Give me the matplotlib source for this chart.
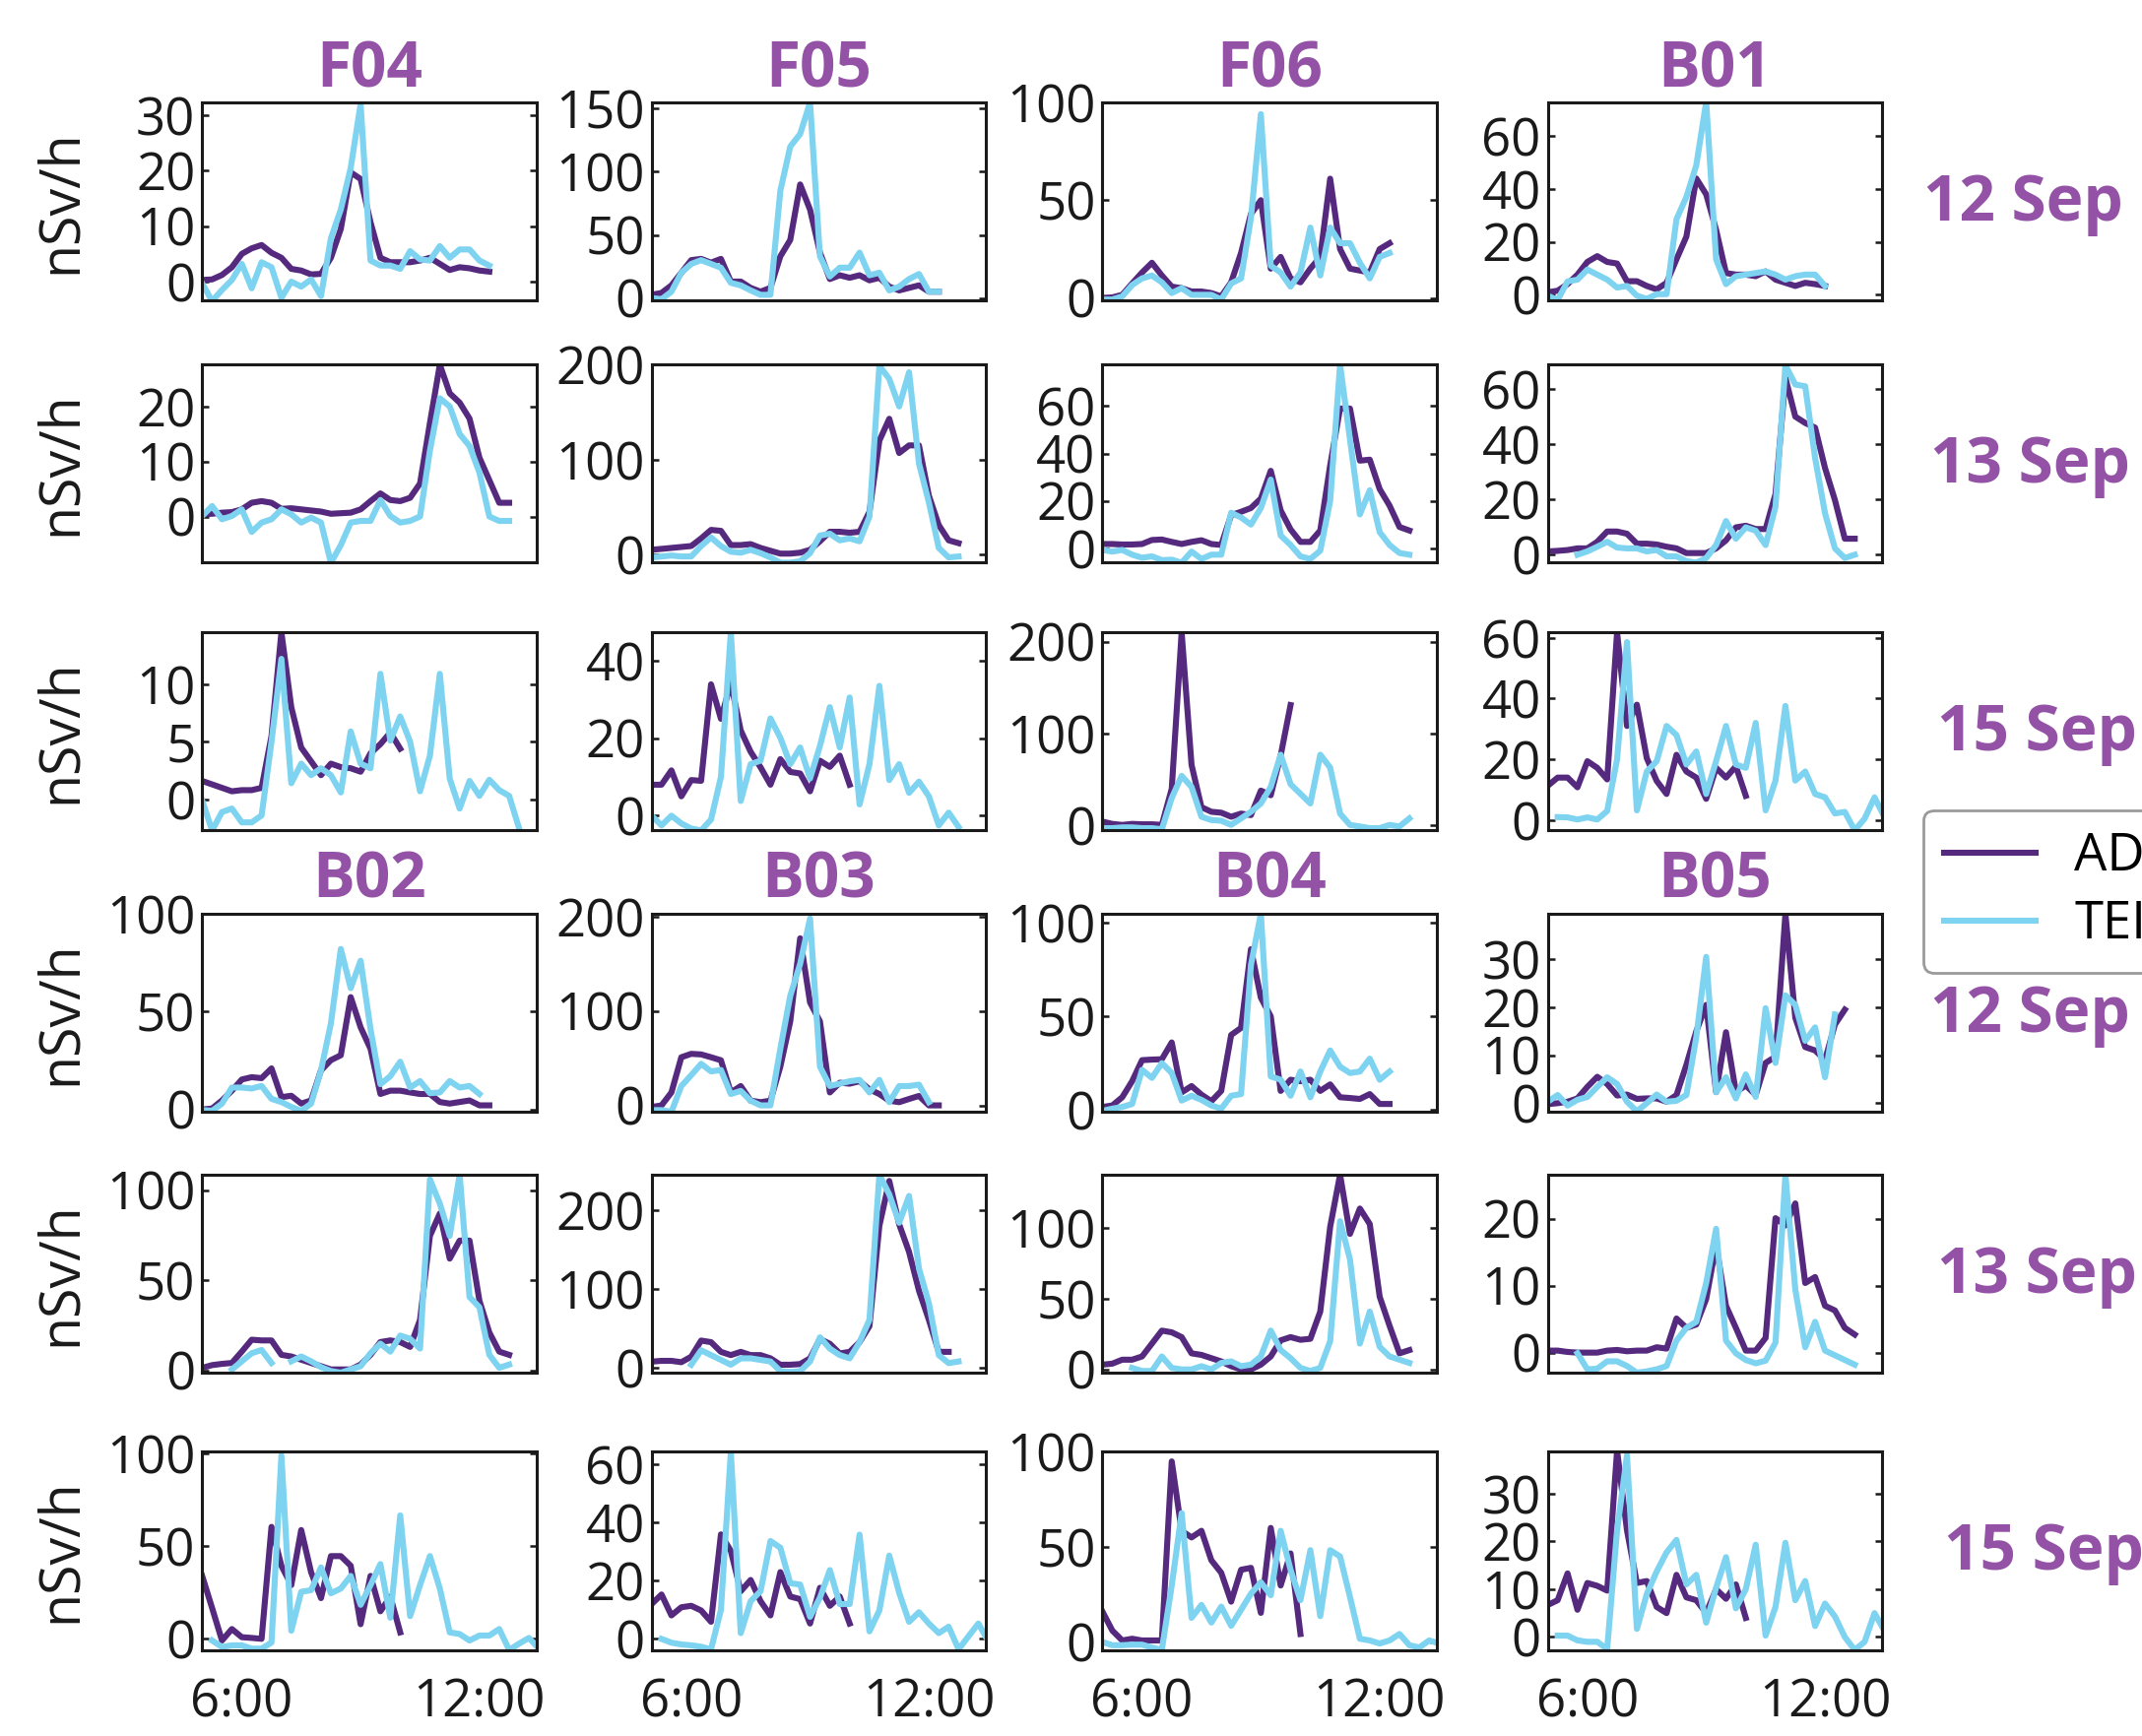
import numpy as np
import matplotlib
matplotlib.use("Agg")
import matplotlib.pyplot as plt
from matplotlib.lines import Line2D

# ---------------- data (nSv/h, 15-min samples starting 5:00) ----------------
START_H = 5.0
STEP_H = 0.25

SITES_TOP = ["F04", "F05", "F06", "B01"]
SITES_BOTTOM = ["B02", "B03", "B04", "B05"]
DATES = ["12 Sep", "13 Sep", "15 Sep", "12 Sep", "13 Sep", "15 Sep"]
SERIES_NAMES = ["ADMS", "TEI"]
X_TICKS = [6, 12]
X_TICK_LABELS = ["6:00", "12:00"]

N = None
# --- 12 Sep, F group
F04_12_A = [0.3,0.4,1.2,2.6,5,6,6.6,5.2,4.3,2.3,2,1.3,1.4,4.3,9.5,19.7,18.5,10.7,4.3,3.5,3.5,3.5,3.8,4.3,3.2,2.1,2.6,2.4,2,1.8]
F04_12_T = [-0.3,-3.5,-1.5,0.3,3.2,-1.2,3.5,2.6,-2.9,0,-0.9,0.4,-2.6,7.8,13,20.5,32,3.8,2.9,2.9,2.3,5.5,4,3.8,6.4,4.3,5.8,5.8,3.8,2.9]
F05_12_A = [2.5,4,10,20,30,31,28,31,13,13,8,5,8,33,46,90,70,36,15,18,16,18,14,16,9,6,8,10,5,5]
F05_12_T = [0,-1,5,20,27,30,27,24,12,10,6,2.5,2.5,85,120,130,155,33,17,24,24,36,18,20,6,9,15,19,5,5]
F06_12_A = [0,0.3,1.6,7.4,13,18,11.5,5.8,5,3.3,3.3,2.5,0.8,8,23,43,50,15,21,10,8,15,21,61,25,15,14,13,25,28]
F06_12_T = [-0.8,-0.8,0.8,6.6,10,11.5,8,2.5,5,1.6,1.6,1.6,-0.8,7.4,10,41,94,16.5,13,5.8,13,36,11.5,36,28,28,18,10,21,23]
B01_12_A = [0.9,1.5,4,7.6,12.4,14.6,12.4,11.8,5.1,5.1,3.3,2,4.5,13.4,22,44,38,24.6,8.2,7.6,7.6,7,8.8,5.7,4.5,3.3,4.5,4,3.3]
B01_12_T = [-0.4,-2,5,5.7,9.5,7.6,5.7,2.7,3.3,-0.4,-1.6,0.2,0.2,28.6,37,49,73,13.4,4,7,7.6,8.2,8.8,7.6,5.7,7,7.6,7.6,3.3]
# --- 13 Sep, F group
F04_13_A = [0.4,0.5,0.7,0.8,1.3,2.5,2.8,2.5,1.4,1.5,1.3,1.1,0.9,0.5,0.6,0.7,1.3,2.8,4.2,3,2.8,3.4,6,17,27.6,22.4,20.7,17.8,10.7,6.6,2.5,2.5]
F04_13_T = [0.1,1.9,-0.5,0.1,1.3,-2.8,-1.1,-0.5,1.3,0.4,-1.1,-0.2,-1.1,-8.4,-5.2,-1.1,-0.8,-0.8,3,0.1,-1.1,-0.8,0,12,21.5,20,15,12.8,8,0,-0.8,-0.8]
F05_13_A = [5,6,7,8,9,17,26,25,10,10,11,7,4,1,1,2,5,14,24,24,23,24,45,120,143,107,115,115,62,31,15,12]
F05_13_T = [-3,-2,-1,-2,-2,9,18,9,3,2,5,1.5,-3,-8.6,-8.6,-7,1.5,20,22,15,17,14,40,199,185,156,192,96,55,7,-3,-2]
F06_13_A = [1.8,1.8,1.6,1.6,1.8,3.5,3.7,2.7,1.8,2.7,3.4,1.8,1.4,14,15.4,17,21,32.7,16,8,2.7,2.7,7.5,35,59,59,37,37.4,25,18,9,7.5]
F06_13_T = [-0.7,-1.4,-0.7,-2.7,-4,-3.4,-5,-4.8,-6.1,-1.4,-4.5,-2.7,-2.7,15,13,10,17,29,5.4,1.4,-3.4,-4.5,-1,20,77.5,46,14.3,24.5,6.8,1.4,-2,-2.7]
B01_13_A = [1.2,1.4,1.7,2.3,2.3,4.7,8.4,8.4,7.6,4,4,3.7,2.9,2.3,0.6,0.6,0.6,2.3,5.2,9.9,10.5,9.3,9.3,22,64,50,47.7,46,31.4,19.8,5.8,5.8]
B01_13_T = [N,N,N,0,1.2,2.9,4.7,2.6,2.3,2.3,1.2,1.7,-0.6,-0.6,-2.3,-2.9,-1.2,3.5,12.2,5.8,9.9,8.7,3.5,17.4,68.6,61.6,61,35,15,2.3,-1.2,0]
# --- 15 Sep, F group
F04_15_A = [1.6,1.3,1,0.7,0.8,0.8,1.0,5.5,14.5,8,4.5,3.3,2.1,3.1,2.8,2.7,2.4,4,4.8,5.8,4.4]
F04_15_T = [-0.1,-2.7,-1.1,-0.8,-2,-2,-1.4,5,12.2,1.4,3.1,2.1,2.7,2.1,0.6,5.9,3.1,2.7,10.9,5.1,7.2,5,0.7,3.8,10.9,1.8,-0.8,1.6,0.3,1.7,0.8,0.3,-2.5]
F05_15_A = [8,8,11.7,5,9.2,9,33.9,25,34.3,22,16.5,12.5,8,14.6,11.3,10.9,6.3,14.2,12.6,15.5,8]
F05_15_T = [0,-2.5,0,-2,-3.3,-3.8,-1,10,47.3,3.8,13.3,14.2,25.1,20.1,13.3,17.6,9.6,18,28,17.6,30.5,2.9,13.3,33.5,9.2,13.3,5.9,8.8,5,-2.5,0.8,-2.9]
F06_15_A = [4.3,1.8,0.7,1.8,1.4,1.4,0.7,40,210,66,20,15,14,9.6,13,11.4,38,33,76,131]
F06_15_T = [-2.8,-2.8,-2,-2,-2.8,-2.8,-4,30,54,42,9.6,6,5.3,0.7,7.8,15,24,42,77,45,34.5,24,77,63,13,0.7,-1,-2.8,-2.8,0.7,-1,7.8]
B01_15_A = [11.3,14,14,10.8,19.4,17.2,13.4,61.8,31,38,20.4,12.9,8.6,21.5,16,14,7,17.2,14,17.7,8]
B01_15_T = [N,1,0.9,0.2,0.9,0.2,3,20,58.6,3.2,16,19.4,31,28,18.3,22.6,8.6,19.4,31,18.3,17.2,32,3.2,13,37.6,13,16,8.6,7.5,2.2,2.7,-3.4,0.5,7.5,1]
# --- 12 Sep, B group
B02_12_A = [0,0.5,4.6,9.6,15.3,16.5,16,21,6.3,7,3,4.6,20,25.2,27.7,57.4,42,31,7.9,9.6,9.6,8.7,7.9,7.9,3.8,3,3.8,4.6,2.1,2.1]
B02_12_T = [-0.3,-0.7,3,11.2,11.2,10.7,12,5.4,3.8,1.3,-0.7,3,20,44,82,62,76,41,12.9,17,24.4,11.2,14.5,8.3,8.7,14.5,11.2,12,7.9]
B03_12_A = [-1.7,0,13.7,51,54.6,54,51,47.8,13.7,20.5,5,3.4,5,41,89,177,109,89,13.7,24,23,25.6,17,12,5,3.4,6.8,10,0,0]
B03_12_T = [-5,-5,-6.8,20.5,32,44,36,37.5,12,15.4,5,0,0,60,116,150,198,41,20.5,23,25.6,27,13.7,27,3.4,20.5,20.5,22,3.4]
B04_12_A = [1.4,2.2,6.6,15.2,26.5,26.8,27,36,9.2,12.6,8,4.5,10,40,43.8,86,60,50,10,16,15.2,16,10,13.5,6.6,6.2,5.7,8.3,3,3]
B04_12_T = [-0.7,0.5,1.4,3,21.3,17,24.9,19.6,4.8,7.4,5.2,2.2,0.5,7.4,8.3,77.5,105,17.8,16,7.4,20.4,6.6,20.4,31.7,23,19.6,20.4,27.3,16,20.4]
B05_12_A = [-0.2,0,0.3,1,3.4,5.5,4,1.6,1.8,0.9,1,1,0.3,1.7,8,15,20.5,2.3,14.8,2.3,3.7,1.7,8.4,9.7,39.5,17.8,11.7,11,9,16.4,19.5]
B05_12_T = [0.3,1.7,-0.5,0.7,1.3,3.4,5.4,4,0.3,-1.7,0,1.8,0.3,0.5,1.7,13.8,30.5,2.3,5.4,1,6,1.3,19.8,8.4,22.5,20.5,13,15.8,5.4,18.5]
# --- 13 Sep, B group
B02_13_A = [1.4,2.9,3.6,4.1,10.4,17,16.6,16.6,8.6,7.7,5.9,4.1,2.3,0.5,0.5,0.5,3.2,8.6,15.7,16.6,15.7,13,28,74.6,87,62,72,72,38.6,21,10.4,8.6]
B02_13_T = [N,N,N,0.5,5,9.5,11.3,4.1,N,5,7.7,5,1.8,-0.4,-1.3,0.5,2.3,9.5,14.8,10.4,19.3,17.5,12.1,106,92.5,74.6,108.6,40.7,35,8.6,1.4,3.2]
B03_13_A = [8,9,9,7.3,14.3,34.7,32.7,20.4,16.3,20.4,16.3,16.3,12.2,4.1,4.1,4.9,12.2,36.7,30.6,18.4,20.4,32.7,53,180,237,182,147,98,61,20.4,20.4]
B03_13_T = [N,N,N,N,4.1,22.4,16.3,10.2,4.1,12.2,12.2,10.2,8.2,-4,-5,-4,8.2,38.8,24.5,16.3,12.2,32.7,61,245,220,184,218,126,82,16.3,6.1,8.2]
B04_13_A = [3.4,4.1,6.9,6.9,9.2,18.3,27.5,26.3,22.9,11.4,10.3,8,5.7,2.3,0,0,3.4,9.2,20.6,22.9,21,21.7,41,101,138,96,114,103,51.5,30.9,11.4,13.7]
B04_13_T = [N,N,N,1.1,-1.1,-1.1,9.2,1.1,0,0,2.3,0,4.6,5.7,2.3,3.4,9.2,27.5,13.7,8,1.1,-1.1,1.1,20,105,78,18.3,41,16,9.2,6.9,4.6]
B05_13_A = [0.3,0.3,0.1,0,0,0,0.3,0.4,0.2,0.3,0.3,0.8,0.6,5.1,3.7,4.2,8,16.1,7,3.7,0.3,0.3,2.2,20.1,19,22.3,10.4,11.3,7,6.3,3.7,2.7]
B05_13_T = [N,N,N,-0.1,-2.5,-2.4,-1.3,-1.3,-2,-3,-2.8,-2.5,-2,1.8,3.7,4.6,10.4,18.5,1.8,-0.1,-1.1,-1.6,-1.2,1.5,26.6,9.4,0.8,4.6,0.3,-0.4,-1.1,-1.8]
# --- 15 Sep, B group
B02_15_A = [34,16.7,-0.9,5.3,0.9,0.5,0,60.5,39.5,29,58.8,36,22,44.7,44.7,39.5,7.9,34,14.9,22.8,3.5]
B02_15_T = [N,-0.9,-4.4,-3.5,-3.5,-5.3,-5.3,-2,99,4.4,25.4,26.3,38.6,24.6,27.2,34,18.4,29,40.4,11.4,66.7,12.3,29,44.7,27.2,3.5,2.6,-0.9,1.8,1.8,5.3,-6,-2.6,0.5,-5.3]
B03_15_A = [12,15.3,8.1,10.9,11.4,9.8,5.9,36,30.3,16.4,20.3,13,8.1,23,14.6,13.7,5.3,17.6,11.4,14.6,5.3]
B03_15_T = [N,0,-1.3,-1.9,-2.2,-2.7,-3.6,10,64.4,2,13,16.4,33.7,31.4,19.2,18.7,7.6,14.2,23.7,12,12,35.9,2.6,9.8,28.7,15.9,5.9,9.2,5.3,2,4.2,-3.6,0.9,5.3,-0.8]
B04_15_A = [16,6,0.8,1.7,0.8,0.8,0.8,95,58.5,55,58.5,43,36.4,21.2,38,39,15.3,60,29.7,46.6,4.2]
B04_15_T = [0,-1.7,-1.7,-1.4,-1.4,-2.9,-4.2,29.7,67.8,12.7,19.5,10.2,18.6,8.5,16.9,25.4,31.4,24.6,58.5,38,22,48.3,13.6,48.3,45,23.7,1.7,0.8,-0.8,0.8,4.2,-1.7,-2.9,0.8,-0.8]
B05_15_A = [6.7,7.7,13.3,5.7,11.3,10.7,9.7,39,22.3,11.3,11.7,6.3,5,13,8.3,7.7,5,10,8,11,4]
B05_15_T = [N,0.3,0.3,-0.7,-1,-1,-2.5,22.3,38,1.7,9,13.7,17.7,20.3,11,13,3,10.3,16.7,6,10,19.3,0.3,6.3,19.7,7.7,11.7,2.3,7,4.3,0,-2.7,-1,5,1.3]

ADMS = [
    [F04_12_A, F05_12_A, F06_12_A, B01_12_A],
    [F04_13_A, F05_13_A, F06_13_A, B01_13_A],
    [F04_15_A, F05_15_A, F06_15_A, B01_15_A],
    [B02_12_A, B03_12_A, B04_12_A, B05_12_A],
    [B02_13_A, B03_13_A, B04_13_A, B05_13_A],
    [B02_15_A, B03_15_A, B04_15_A, B05_15_A],
]
TEI = [
    [F04_12_T, F05_12_T, F06_12_T, B01_12_T],
    [F04_13_T, F05_13_T, F06_13_T, B01_13_T],
    [F04_15_T, F05_15_T, F06_15_T, B01_15_T],
    [B02_12_T, B03_12_T, B04_12_T, B05_12_T],
    [B02_13_T, B03_13_T, B04_13_T, B05_13_T],
    [B02_15_T, B03_15_T, B04_15_T, B05_15_T],
]
YLIMS = [
    [(-3.4, 32.3), (-2, 155), (-1.3, 100), (-2.2, 72.8)],
    [(-8.4, 27.6), (-8.6, 200), (-6.1, 77.5), (-2.9, 68.8)],
    [(-2.7, 14.5), (-3.8, 47.3), (-5.3, 210), (-3.4, 61.8)],
    [(-1.2, 100), (-6.8, 203), (-1.2, 105), (-1.8, 39.5)],
    [(-1.3, 108.6), (-6, 245), (-2.3, 138), (-3, 26.6)],
    [(-6, 101), (-3.8, 64.4), (-4.2, 100), (-2.7, 38.7)],
]
YTICKS = [
    [[0, 10, 20, 30], [0, 50, 100, 150], [0, 50, 100], [0, 20, 40, 60]],
    [[0, 10, 20], [0, 100, 200], [0, 20, 40, 60], [0, 20, 40, 60]],
    [[0, 5, 10], [0, 20, 40], [0, 100, 200], [0, 20, 40, 60]],
    [[0, 50, 100], [0, 100, 200], [0, 50, 100], [0, 10, 20, 30]],
    [[0, 50, 100], [0, 100, 200], [0, 50, 100], [0, 10, 20]],
    [[0, 50, 100], [0, 20, 40, 60], [0, 50, 100], [0, 10, 20, 30]],
]

# ---------------- style ----------------
PURPLE = "#55297d"
CYAN = "#7dd3f0"
LABEL_PURPLE = "#9352a6"
TEXT_FONT = ["Open Sans", "DejaVu Sans"]
INK = "#1a1a1a"
LW = 4.4

plt.rcParams["font.family"] = TEXT_FONT

W, H = 1568.0, 1271.0
COL_LEFT = [148, 477, 807, 1133]
ROW_TOP = [75, 267, 463, 669, 860, 1063]
AX_W, AX_H = 245, 145
DATE_X = [1408, 1413, 1418, 1413, 1418, 1423]

fig = plt.figure(figsize=(21.75, 17.63), dpi=100)

for r in range(6):
    for c in range(4):
        left = COL_LEFT[c] / W
        bottom = 1 - (ROW_TOP[r] + AX_H) / H
        ax = fig.add_axes([left, bottom, AX_W / W, AX_H / H])
        a = np.array(ADMS[r][c], dtype=float)
        t = np.array(TEI[r][c], dtype=float)
        ax.plot(START_H + STEP_H * np.arange(len(a)), a, color=PURPLE, lw=LW)
        ax.plot(START_H + STEP_H * np.arange(len(t)), t, color=CYAN, lw=LW)
        ax.set_xlim(5.0, 13.45)
        ax.set_ylim(*YLIMS[r][c])
        ax.set_yticks(YTICKS[r][c])
        ax.set_yticklabels([str(v) for v in YTICKS[r][c]])
        ax.set_xticks(X_TICKS)
        if r == 5:
            ax.set_xticklabels(X_TICK_LABELS)
        else:
            ax.set_xticklabels([])
        ax.tick_params(axis="y", which="both", direction="in", left=True, right=True,
                       length=5, width=1.8, labelsize=38, pad=5, colors=INK)
        ax.tick_params(axis="x", length=0, labelsize=38, pad=20, colors=INK)
        for sp in ax.spines.values():
            sp.set_linewidth(2.2)
            sp.set_color(INK)
        if r == 0:
            ax.set_title(SITES_TOP[c], fontsize=46, fontweight="bold",
                         color=LABEL_PURPLE, pad=2)
        if r == 3:
            ax.set_title(SITES_BOTTOM[c], fontsize=46, fontweight="bold",
                         color=LABEL_PURPLE, pad=2)
        if c == 0:
            fig.text(45 / W, 1 - (ROW_TOP[r] + AX_H / 2) / H, "nSv/h",
                     rotation=90, ha="center", va="center", fontsize=40, color=INK)
    fig.text(DATE_X[r] / W, 1 - (ROW_TOP[r] + AX_H / 2 + 2) / H, DATES[r],
             ha="left", va="center", fontsize=46, fontweight="bold",
             color=LABEL_PURPLE)

handles = [Line2D([], [], color=PURPLE, lw=LW), Line2D([], [], color=CYAN, lw=LW)]
leg = fig.legend(handles, SERIES_NAMES, loc="upper left",
                 bbox_to_anchor=(1408 / W, 1 - 593 / H), borderaxespad=0,
                 prop={"size": 38},
                 handlelength=1.75, handletextpad=0.75, labelspacing=0.3,
                 borderpad=0.4, frameon=True, fancybox=True, framealpha=1)
leg.get_frame().set_edgecolor("#9a9a9a")
leg.get_frame().set_linewidth(2)

fig.savefig("out.png", dpi=100)
